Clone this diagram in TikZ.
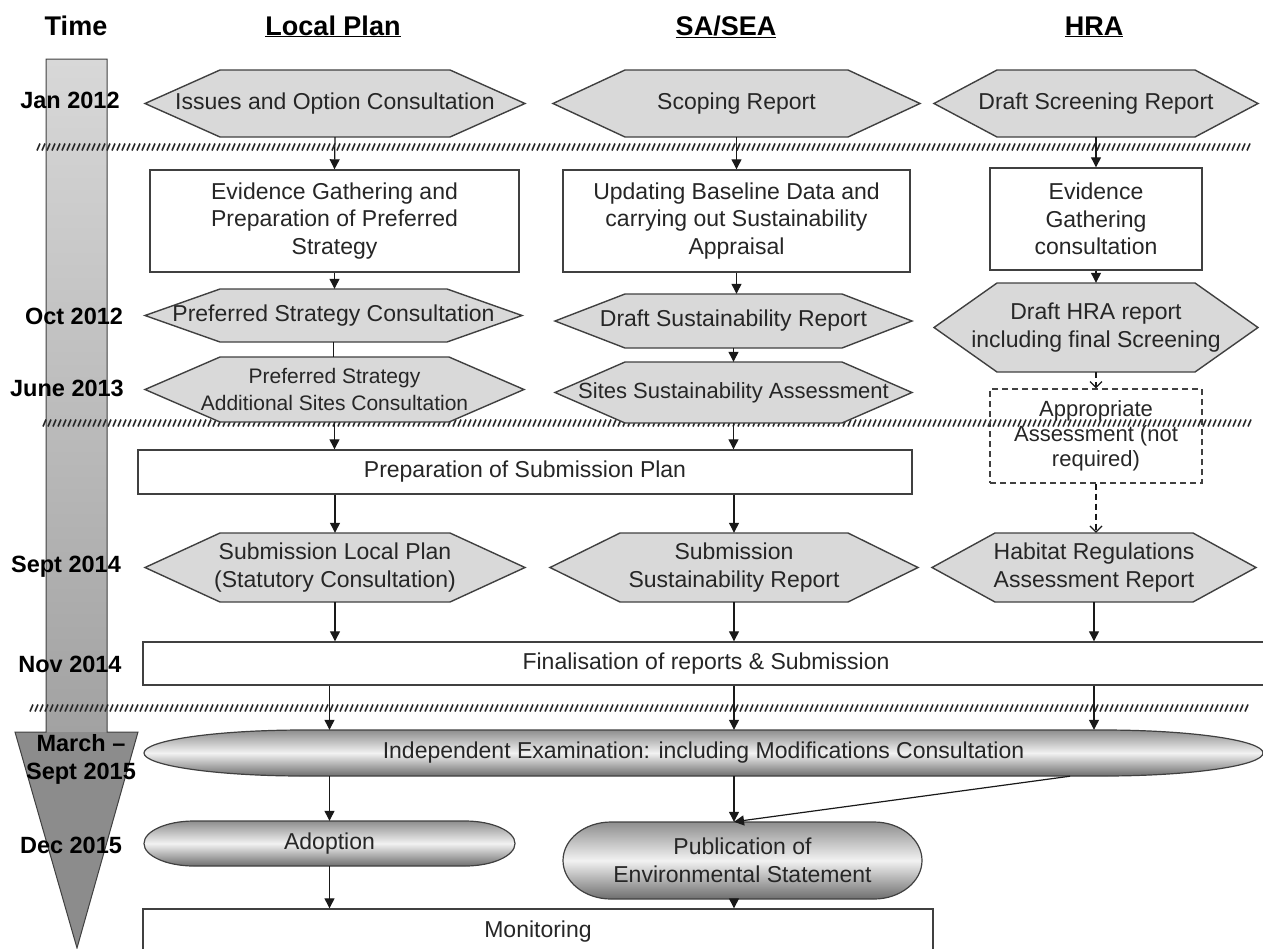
\documentclass[tikz,border=0pt]{standalone}
\usepackage{fontspec}
\setmainfont{Liberation Sans}
\usetikzlibrary{arrows.meta}

\definecolor{hexfill}{HTML}{D9D9D9}
\definecolor{edgegray}{HTML}{404040}
\definecolor{textgray}{HTML}{262626}
\definecolor{bartop}{HTML}{D8D8D8}
\definecolor{barbottom}{HTML}{A2A2A2}
\definecolor{headgray}{HTML}{8C8C8C}
\definecolor{tubetop}{HTML}{8E8E8E}
\definecolor{tubemid}{HTML}{F2F2F2}
\definecolor{tubebottom}{HTML}{6E6E6E}

% name, x, y, half width, half height, tip, options, text
\newcommand{\hexstage}[8]{%
  \draw[hexline] (#2-#4,#3) -- (#2-#4+#6,#3-#5) -- (#2+#4-#6,#3-#5)
    -- (#2+#4,#3) -- (#2+#4-#6,#3+#5) -- (#2-#4+#6,#3+#5) -- cycle;
  \node[stagetext, minimum width=2*#4, minimum height=2*#5, #7] (#1) at (#2,#3) {#8};}
% name, x, y, half width, half height, end radius, options, text
\newcommand{\tubestage}[8]{%
  \path[tubeline] (#2-#4+#6,#3-#5) -- (#2+#4-#6,#3-#5)
    .. controls (#2+#4-0.45*#6,#3-#5) and (#2+#4,#3-0.55*#5) .. (#2+#4,#3)
    .. controls (#2+#4,#3+0.55*#5) and (#2+#4-0.45*#6,#3+#5) .. (#2+#4-#6,#3+#5)
    -- (#2-#4+#6,#3+#5)
    .. controls (#2-#4+0.45*#6,#3+#5) and (#2-#4,#3+0.55*#5) .. (#2-#4,#3)
    .. controls (#2-#4,#3-0.55*#5) and (#2-#4+0.45*#6,#3-#5) .. cycle;
  \node[stagetext, minimum width=2*#4, minimum height=2*#5, #7] (#1) at (#2,#3) {#8};}

\begin{document}
\begin{tikzpicture}[x=1pt, y=-1pt,
    stagetext/.style={inner sep=0pt, align=center, text=textgray, font=\fontsize{23}{27.5}\selectfont},
    stagebox/.style={stagetext, draw=edgegray, line width=1.4pt, fill=white},
    hexline/.style={draw=edgegray, line width=1.4pt, fill=hexfill},
    tubeline/.style={draw=edgegray, line width=1.2pt, top color=tubetop, bottom color=tubebottom, middle color=tubemid},
    colhead/.style={anchor=base, font=\bfseries\fontsize{27}{30}\selectfont},
    datelabel/.style={anchor=base, align=center, font=\bfseries\fontsize{23.5}{28}\selectfont},
    hatchline/.style={draw=black!85, line width=1.6pt},
    arr/.style={draw=black!90, line width=1.2pt, -{Triangle[length=10pt,width=10pt]}},
    darr/.style={draw=black!90, line width=1.2pt, dash pattern=on 6pt off 4pt, -{Straight Barb[length=6pt,width=12pt]}}]

    \useasboundingbox (0,0) rectangle (1263,948);
    \clip (0,0) rectangle (1263,948);

    % time line
    \shade[top color=bartop, bottom color=barbottom] (46,59) rectangle (107,732);
    \fill[headgray] (15,732) -- (138,732) -- (77,948) -- cycle;
    \draw[edgegray, line width=1pt] (46,732) -- (46,59) -- (107,59) -- (107,732)
        -- (138,732) -- (77,948) -- (15,732) -- cycle;

    \draw[hatchline] \foreach \hx in {37,42,...,1248} {(\hx,150.5) -- ++(3,-7)};
    \draw[hatchline] \foreach \hx in {43,48,...,1248} {(\hx,426.5) -- ++(3,-7)};
    \draw[hatchline] \foreach \hx in {30,35,...,1248} {(\hx,711.5) -- ++(3,-7)};

    \node[colhead] (timehead) at (76,35) {Time};
    \node[colhead] (lphead) at (333,35) {\underline{Local Plan}};
    \node[colhead] (seahead) at (726,35) {\underline{SA/SEA}};
    \node[colhead] (hrahead) at (1094,35) {\underline{HRA}};

    \hexstage{issues}{335}{103.5}{190}{33.5}{75}{}{Issues and Option Consultation}
    \hexstage{scoping}{736.5}{103.5}{183.5}{33.5}{72}{}{Scoping Report}
    \hexstage{drscreen}{1096}{103.5}{162}{33.5}{63}{}{Draft Screening Report}

    \node[stagebox, minimum width=369, minimum height=102] (evidlp) at (334.5,221) {Evidence Gathering and\\Preparation of Preferred\\Strategy};
    \node[stagebox, minimum width=347, minimum height=102] (update) at (736.5,221) {Updating Baseline Data and\\carrying out Sustainability\\Appraisal};
    \node[stagebox, minimum width=212, minimum height=102] (evidhra) at (1096,219) {Evidence\\Gathering\\consultation};

    \hexstage{prefcons}{333.5}{315.5}{188.5}{26.5}{75}{}{Preferred Strategy Consultation}
    \hexstage{draftsust}{733.5}{321}{178.5}{27}{70}{}{Draft Sustainability Report}
    \hexstage{drafthra}{1096}{327.5}{162}{44.5}{63}{}{Draft HRA report\\including final Screening}
    \hexstage{addsites}{334.5}{389.5}{189.5}{32.5}{75}{font=\fontsize{21}{27}\selectfont}{Preferred Strategy\\Additional Sites Consultation}
    \hexstage{sitessust}{733.5}{392.5}{178.5}{30.5}{70}{font=\fontsize{22}{26}\selectfont}{Sites Sustainability Assessment}

    \node[stagetext, draw=edgegray, line width=1.2pt, dash pattern=on 6pt off 4pt, minimum width=212, minimum height=94,
        font=\fontsize{22}{25}\selectfont] (approp) at (1096,436) {Appropriate\\Assessment (not\\required)};
    \node[stagebox, minimum width=774, minimum height=44] (prepsub) at (525,472) {Preparation of Submission Plan};

    \hexstage{sublp}{335}{567.5}{190}{34.5}{75}{}{Submission Local Plan\\(Statutory Consultation)}
    \hexstage{subsust}{734}{567.5}{184}{34.5}{70}{}{Submission\\Sustainability Report}
    \hexstage{habitat}{1094}{567.5}{162}{34.5}{63}{}{Habitat Regulations\\Assessment Report}

    \node[stagebox, minimum width=1126, minimum height=43] (final) at (706,663.5) {Finalisation of reports \& Submission};

    \tubestage{indep}{703.5}{753}{559.5}{23}{160}{}{Independent Examination: including Modifications Consultation}
    \tubestage{adopt}{329.5}{843.5}{185.5}{22.5}{50}{}{Adoption}
    \tubestage{pub}{742.5}{860.5}{179.5}{38.5}{48}{}{Publication of\\Environmental Statement}

    \node[stagebox, minimum width=790, minimum height=46] (monitor) at (538,932) {Monitoring};

    % Local Plan
    \draw[arr] (issues.south) -- (evidlp.north);
    \draw[arr] (evidlp.south) -- (evidlp.south |- prefcons.north);
    \draw[draw=black!90, line width=1.2pt] (prefcons.south) -- (prefcons.south |- addsites.north);
    \draw[arr] (addsites.south) -- (addsites.south |- prepsub.north);
    \draw[arr] (sublp.north |- prepsub.south) -- (sublp.north);
    \draw[arr] (sublp.south) -- (sublp.south |- final.north);
    \draw[arr] (adopt.north |- final.south) -- (adopt.north |- indep.north);
    \draw[arr] (adopt.north |- indep.south) -- (adopt.north);
    \draw[arr] (adopt.south) -- (adopt.south |- monitor.north);

    % SA/SEA
    \draw[arr] (scoping.south) -- (update.north);
    \draw[arr] (update.south) -- (update.south |- draftsust.north);
    \draw[arr] (draftsust.south) -- (sitessust.north);
    \draw[arr] (sitessust.south) -- (sitessust.south |- prepsub.north);
    \draw[arr] (subsust.north |- prepsub.south) -- (subsust.north);
    \draw[arr] (subsust.south) -- (subsust.south |- final.north);
    \draw[arr] (subsust.south |- final.south) -- (subsust.south |- indep.north);
    \draw[arr] (subsust.south |- indep.south) -- (subsust.south |- pub.north);
    \draw[arr] ([xshift=366.5pt]indep.south) -- (subsust.south |- pub.north);
    \draw[arr] (subsust.south |- pub.south) -- (subsust.south |- monitor.north);

    % HRA
    \draw[arr] (drscreen.south) -- (evidhra.north);
    \draw[arr] (evidhra.south) -- (drafthra.north);
    \draw[darr] (drafthra.south) -- (approp.north);
    \draw[darr] (approp.south) -- (approp.south |- habitat.north);
    \draw[arr] (habitat.south) -- (habitat.south |- final.north);
    \draw[arr] (habitat.south |- final.south) -- (habitat.south |- indep.north);

    \node[datelabel] (jan12) at (70,108) {Jan 2012};
    \node[datelabel] (oct12) at (74,324) {Oct 2012};
    \node[datelabel] (jun13) at (67,396) {June 2013};
    \node[datelabel] (sep14) at (66,572) {Sept 2014};
    \node[datelabel] (nov14) at (70,672) {Nov 2014};
    \node[datelabel, anchor=center] (mar15) at (81,759) {March --\\Sept 2015};
    \node[datelabel] (dec15) at (71,853) {Dec 2015};
\end{tikzpicture}
\end{document}
